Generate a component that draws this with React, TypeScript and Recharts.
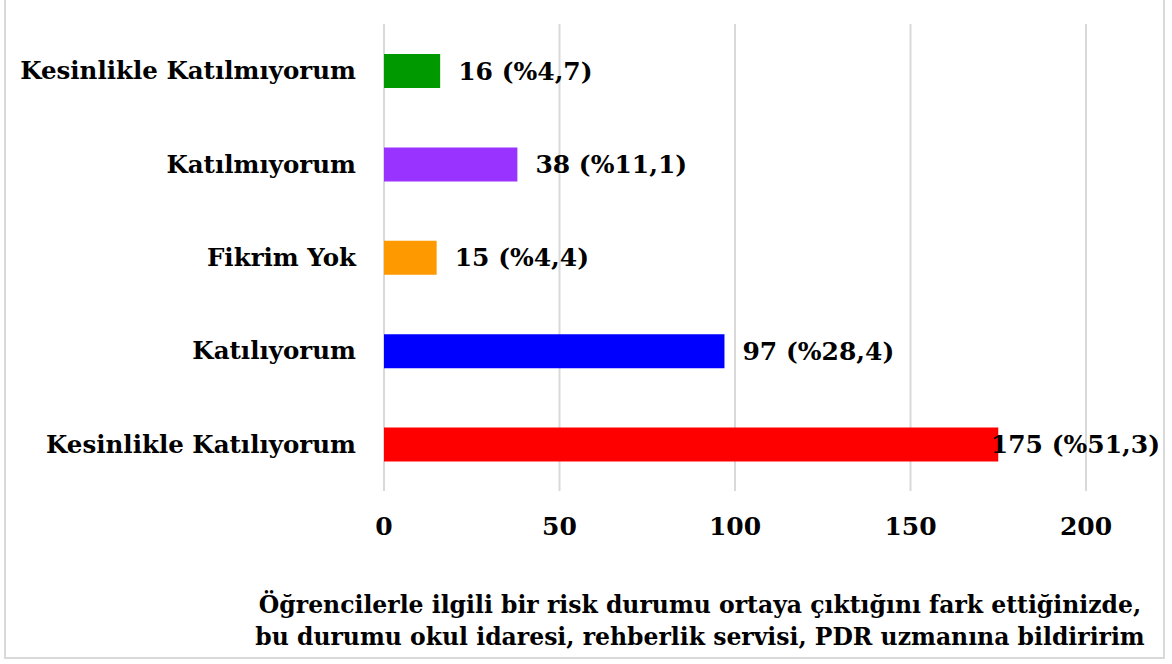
import React from "react";
import { BarChart, Bar, XAxis, YAxis, CartesianGrid, Cell, LabelList } from "recharts";

const categories = [
  "Kesinlikle Katılmıyorum",
  "Katılmıyorum",
  "Fikrim Yok",
  "Katılıyorum",
  "Kesinlikle Katılıyorum",
];
const counts = [16, 38, 15, 97, 175];
const percents = ["4,7", "11,1", "4,4", "28,4", "51,3"];
const colors = ["#009900", "#9933FF", "#FF9900", "#0000FF", "#FF0000"];
const xTicks = [0, 50, 100, 150, 200];
const titleLines = [
  "Öğrencilerle ilgili bir risk durumu ortaya çıktığını fark ettiğinizde,",
  "bu durumu okul idaresi, rehberlik servisi, PDR uzmanına bildiririm",
];

const data = categories.map((c, i) => ({ name: c, value: counts[i], pct: percents[i] }));

const FONT = "'DejaVu Serif', serif";

const YTick = (props: any) => {
  const { x, y, payload } = props;
  return (
    <text x={x - 20} y={y} textAnchor="end" dominantBaseline="central" fontFamily={FONT} fontWeight="bold" fontSize={24.5} fill="#000">
      {payload.value}
    </text>
  );
};

const XTick = (props: any) => {
  const { x, y, payload } = props;
  return (
    <text x={x} y={y + 27} textAnchor="middle" dominantBaseline="central" fontFamily={FONT} fontWeight="bold" fontSize={25} fill="#000">
      {payload.value}
    </text>
  );
};

const ValueLabel = (props: any) => {
  const { x, y, width, height, index } = props;
  const d = data[index];
  const text = `${d.value} (%${d.pct})`;
  let tx = x + width + 18;
  let anchor: "start" | "end" = "start";
  if (tx > 950) {
    tx = 1160;
    anchor = "end";
  }
  return (
    <text x={tx} y={y + height / 2} textAnchor={anchor} dominantBaseline="central" fontFamily={FONT} fontWeight="bold" fontSize={25} fill="#000">
      {text}
    </text>
  );
};

export default function App() {
  return (
    <div style={{ position: "absolute", left: 0, top: 0, width: 1172, height: 664, background: "#fff" }}>
      <div style={{ position: "absolute", left: 4, top: -2, width: 1161, height: 661, border: "2px solid #d9d9d9", boxSizing: "border-box" }} />
      <BarChart
        width={1172}
        height={664}
        data={data}
        layout="vertical"
        margin={{ top: 24, right: 86, bottom: 0, left: 0 }}
        barCategoryGap={0}
      >
        <CartesianGrid horizontal={false} vertical={true} stroke="#d9d9d9" strokeWidth={2} />
        <XAxis
          type="number"
          domain={[0, 200]}
          ticks={xTicks}
          axisLine={false}
          tickLine={false}
          height={173}
          tick={<XTick />}
          interval={0}
        />
        <YAxis
          type="category"
          dataKey="name"
          width={384}
          axisLine={false}
          tickLine={false}
          tick={<YTick />}
          interval={0}
        />
        <Bar dataKey="value" barSize={34} isAnimationActive={false}>
          {data.map((d, i) => (
            <Cell key={d.name} fill={colors[i]} />
          ))}
          <LabelList dataKey="value" content={<ValueLabel />} />
        </Bar>
      </BarChart>
      <div
        style={{
          position: "absolute",
          left: 0,
          width: 1400,
          top: 589,
          textAlign: "center",
          fontFamily: FONT,
          fontWeight: "bold",
          fontSize: 23.5,
          lineHeight: "32px",
          color: "#000",
        }}
      >
        {titleLines.map((l) => (
          <div key={l}>{l}</div>
        ))}
      </div>
    </div>
  );
}
